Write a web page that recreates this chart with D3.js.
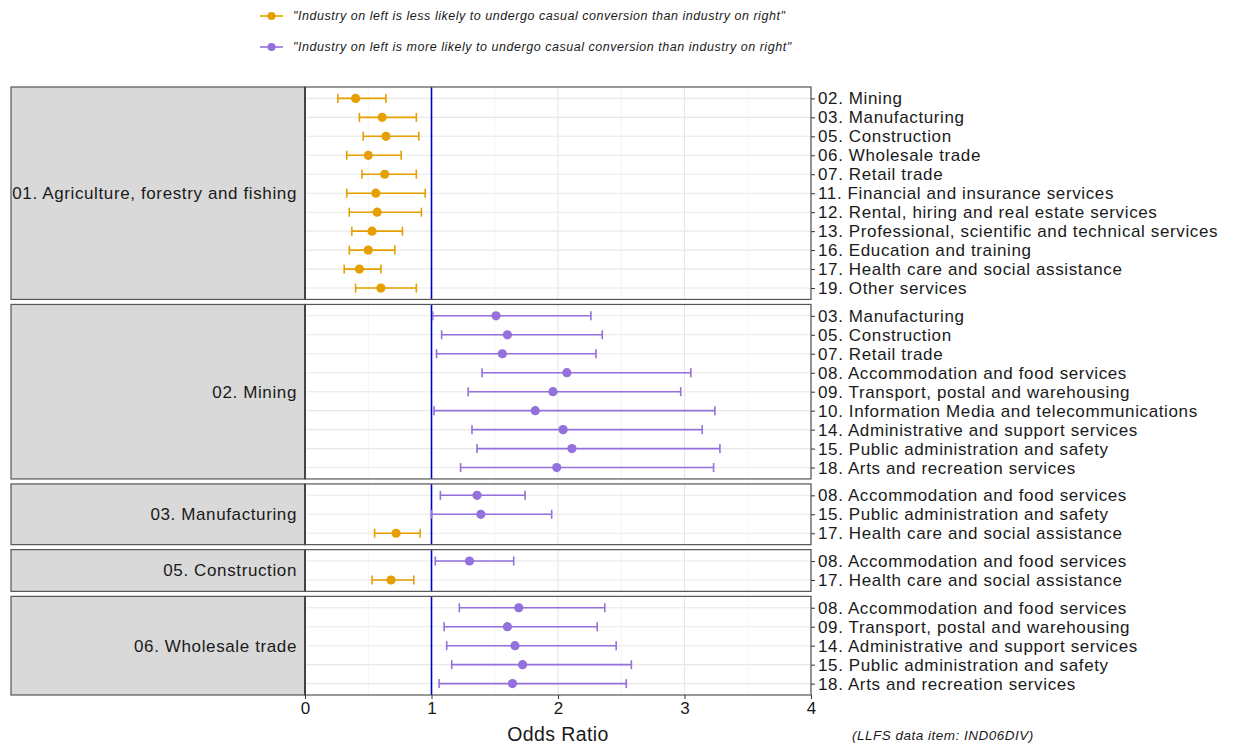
<!DOCTYPE html>
<head>
  <meta charset="utf-8">
  <script src="https://d3js.org/d3.v7.min.js"></script>
  <style>
    body { margin: 0; background: #fff; }
    text { font-family: "Liberation Sans", Arial, sans-serif; }
  </style>
</head>
<body>
  <div id="graph"></div>
  <script>
    // industry on the left (facet strips)
    var leftIndustries = ["01. Agriculture, forestry and fishing", "02. Mining", "03. Manufacturing",
      "05. Construction", "06. Wholesale trade"];

    // industry on the right, one list per facet
    var rightIndustries = [
      ["02. Mining", "03. Manufacturing", "05. Construction", "06. Wholesale trade", "07. Retail trade",
        "11. Financial and insurance services", "12. Rental, hiring and real estate services",
        "13. Professional, scientific and technical services", "16. Education and training",
        "17. Health care and social assistance", "19. Other services"],
      ["03. Manufacturing", "05. Construction", "07. Retail trade", "08. Accommodation and food services",
        "09. Transport, postal and warehousing", "10. Information Media and telecommunications",
        "14. Administrative and support services", "15. Public administration and safety",
        "18. Arts and recreation services"],
      ["08. Accommodation and food services", "15. Public administration and safety",
        "17. Health care and social assistance"],
      ["08. Accommodation and food services", "17. Health care and social assistance"],
      ["08. Accommodation and food services", "09. Transport, postal and warehousing",
        "14. Administrative and support services", "15. Public administration and safety",
        "18. Arts and recreation services"]
    ];

    // odds ratio estimates and 95% CI
    var oddsRatio = [
      [0.40, 0.61, 0.64, 0.50, 0.63, 0.56, 0.57, 0.53, 0.50, 0.43, 0.60],
      [1.51, 1.60, 1.56, 2.07, 1.96, 1.82, 2.04, 2.11, 1.99],
      [1.36, 1.39, 0.72],
      [1.30, 0.68],
      [1.69, 1.60, 1.66, 1.72, 1.64]
    ];
    var lowerCI = [
      [0.26, 0.43, 0.46, 0.33, 0.45, 0.33, 0.35, 0.37, 0.35, 0.31, 0.40],
      [1.01, 1.08, 1.04, 1.40, 1.29, 1.02, 1.32, 1.36, 1.23],
      [1.07, 1.00, 0.55],
      [1.03, 0.53],
      [1.22, 1.10, 1.12, 1.16, 1.06]
    ];
    var upperCI = [
      [0.64, 0.88, 0.90, 0.76, 0.88, 0.95, 0.92, 0.77, 0.71, 0.60, 0.88],
      [2.26, 2.35, 2.30, 3.05, 2.97, 3.24, 3.14, 3.28, 3.23],
      [1.74, 1.95, 0.91],
      [1.65, 0.86],
      [2.37, 2.31, 2.46, 2.58, 2.54]
    ];

    var xTicks = [0, 1, 2, 3, 4];
    var legendLabels = ["\"Industry on left is less likely to undergo casual conversion than industry on right\"",
      "\"Industry on left is more likely to undergo casual conversion than industry on right\""];

    var orange = "#E69F00", purple = "#9370DB";

    var width = 1235, height = 751;
    var svg = d3.select("#graph").append("svg")
      .attr("width", width)
      .attr("height", height);

    var stripLeft = 11, plotLeft = 305, plotRight = 811;
    var panelTop = 87, panelBottom = 695, gap = 5;

    var x = d3.scaleLinear().domain([0, 4]).range([plotLeft, plotRight]);

    // row step shared by all facets (ggplot free_y space)
    var nRows = d3.sum(rightIndustries, d => d.length);
    var step = (panelBottom - panelTop - gap * (leftIndustries.length - 1)) / (nRows + 0.2 * leftIndustries.length);

    var y0 = panelTop;
    leftIndustries.forEach(function(name, p) {
      var rows = rightIndustries[p];
      var h = (rows.length + 0.2) * step;
      var y = d3.scalePoint().domain(rows).range([y0, y0 + h]).padding(0.6);
      var g = svg.append("g");

      // strip
      g.append("rect")
        .attr("x", stripLeft).attr("y", y0)
        .attr("width", plotLeft - stripLeft).attr("height", h)
        .attr("fill", "#d9d9d9").attr("stroke", "#555").attr("stroke-width", 1.2);
      g.append("text")
        .attr("x", plotLeft - 8).attr("y", y0 + h / 2)
        .attr("dy", "0.35em")
        .attr("text-anchor", "end")
        .attr("font-size", 17)
        .attr("letter-spacing", 0.62)
        .attr("fill", "#1a1a1a")
        .text(name);

      // panel background + grid
      g.append("rect")
        .attr("x", plotLeft).attr("y", y0)
        .attr("width", plotRight - plotLeft).attr("height", h)
        .attr("fill", "#fff");
      g.selectAll(".minor").data([0.5, 1.5, 2.5, 3.5]).enter()
        .append("line")
        .attr("x1", d => x(d)).attr("x2", d => x(d))
        .attr("y1", y0).attr("y2", y0 + h)
        .attr("stroke", "#f2f2f2").attr("stroke-width", 0.8);
      g.selectAll(".major").data(xTicks).enter()
        .append("line")
        .attr("x1", d => x(d)).attr("x2", d => x(d))
        .attr("y1", y0).attr("y2", y0 + h)
        .attr("stroke", "#e5e5e5").attr("stroke-width", 1.1);
      g.selectAll(".hgrid").data(rows).enter()
        .append("line")
        .attr("x1", plotLeft).attr("x2", plotRight)
        .attr("y1", d => y(d)).attr("y2", d => y(d))
        .attr("stroke", "#e8e8e8").attr("stroke-width", 1.1);

      // reference line at OR = 1
      g.append("line")
        .attr("x1", x(1)).attr("x2", x(1))
        .attr("y1", y0).attr("y2", y0 + h)
        .attr("stroke", "#0000CD").attr("stroke-width", 1.6);

      // error bars
      var d = rows.map((r, i) => ({ row: r, est: oddsRatio[p][i], lo: lowerCI[p][i], hi: upperCI[p][i] }));
      var col = e => e.est < 1 ? orange : purple;
      var bars = g.selectAll(".bar").data(d).enter().append("g");
      bars.append("line")
        .attr("x1", e => x(e.lo)).attr("x2", e => x(e.hi))
        .attr("y1", e => y(e.row)).attr("y2", e => y(e.row))
        .attr("stroke", col).attr("stroke-width", 1.6);
      bars.append("line")
        .attr("x1", e => x(e.lo)).attr("x2", e => x(e.lo))
        .attr("y1", e => y(e.row) - 4.5).attr("y2", e => y(e.row) + 4.5)
        .attr("stroke", col).attr("stroke-width", 1.6);
      bars.append("line")
        .attr("x1", e => x(e.hi)).attr("x2", e => x(e.hi))
        .attr("y1", e => y(e.row) - 4.5).attr("y2", e => y(e.row) + 4.5)
        .attr("stroke", col).attr("stroke-width", 1.6);
      bars.append("circle")
        .attr("cx", e => x(e.est)).attr("cy", e => y(e.row))
        .attr("r", 4.6).attr("fill", col);

      // panel border
      g.append("rect")
        .attr("x", plotLeft).attr("y", y0)
        .attr("width", plotRight - plotLeft).attr("height", h)
        .attr("fill", "none").attr("stroke", "#555").attr("stroke-width", 1.2);
      g.append("line")
        .attr("x1", plotLeft).attr("x2", plotLeft)
        .attr("y1", y0).attr("y2", y0 + h)
        .attr("stroke", "#444").attr("stroke-width", 2);

      // right axis
      var yAxis = d3.axisRight(y).tickSize(4).tickPadding(3);
      var ax = g.append("g")
        .attr("transform", "translate(" + plotRight + ",0)")
        .call(yAxis);
      ax.select(".domain").remove();
      ax.selectAll(".tick line").attr("stroke", "#333");
      ax.selectAll(".tick text")
        .attr("font-size", 17)
        .attr("letter-spacing", 0.62)
        .attr("fill", "#1a1a1a")
        .attr("font-family", "Liberation Sans, Arial, sans-serif");

      y0 += h + gap;
    });

    // x axis
    var xAxis = d3.axisBottom(x).tickValues(xTicks).tickFormat(d3.format("d")).tickSize(4).tickPadding(3);
    var xa = svg.append("g")
      .attr("transform", "translate(0," + panelBottom + ")")
      .call(xAxis);
    xa.select(".domain").remove();
    xa.selectAll(".tick line").attr("stroke", "#333");
    xa.selectAll(".tick text")
      .attr("font-size", 17)
      .attr("fill", "#1a1a1a")
      .attr("font-family", "Liberation Sans, Arial, sans-serif");

    svg.append("text")
      .attr("x", (plotLeft + plotRight) / 2).attr("y", 741)
      .attr("text-anchor", "middle")
      .attr("font-size", 19.5)
      .attr("letter-spacing", 0.4)
      .attr("fill", "#1a1a1a")
      .text("Odds Ratio");

    svg.append("text")
      .attr("x", 852).attr("y", 740)
      .attr("font-size", 13.5)
      .attr("letter-spacing", 0.5)
      .attr("font-style", "italic")
      .attr("fill", "#1a1a1a")
      .text("(LLFS data item: IND06DIV)");

    // legend
    var legend = svg.selectAll(".legend").data([orange, purple]).enter()
      .append("g")
      .attr("transform", (d, i) => "translate(260," + (16 + i * 31) + ")");
    legend.append("line")
      .attr("x1", 0).attr("x2", 23)
      .attr("stroke", d => d).attr("stroke-width", 1.6);
    legend.append("circle")
      .attr("cx", 11.5).attr("r", 4).attr("fill", d => d);
    legend.append("text")
      .attr("x", 33).attr("dy", "0.35em")
      .attr("font-size", 12.5)
      .attr("letter-spacing", 0.53)
      .attr("font-style", "italic")
      .attr("fill", "#1a1a1a")
      .text((d, i) => legendLabels[i]);
  </script>
</body>
